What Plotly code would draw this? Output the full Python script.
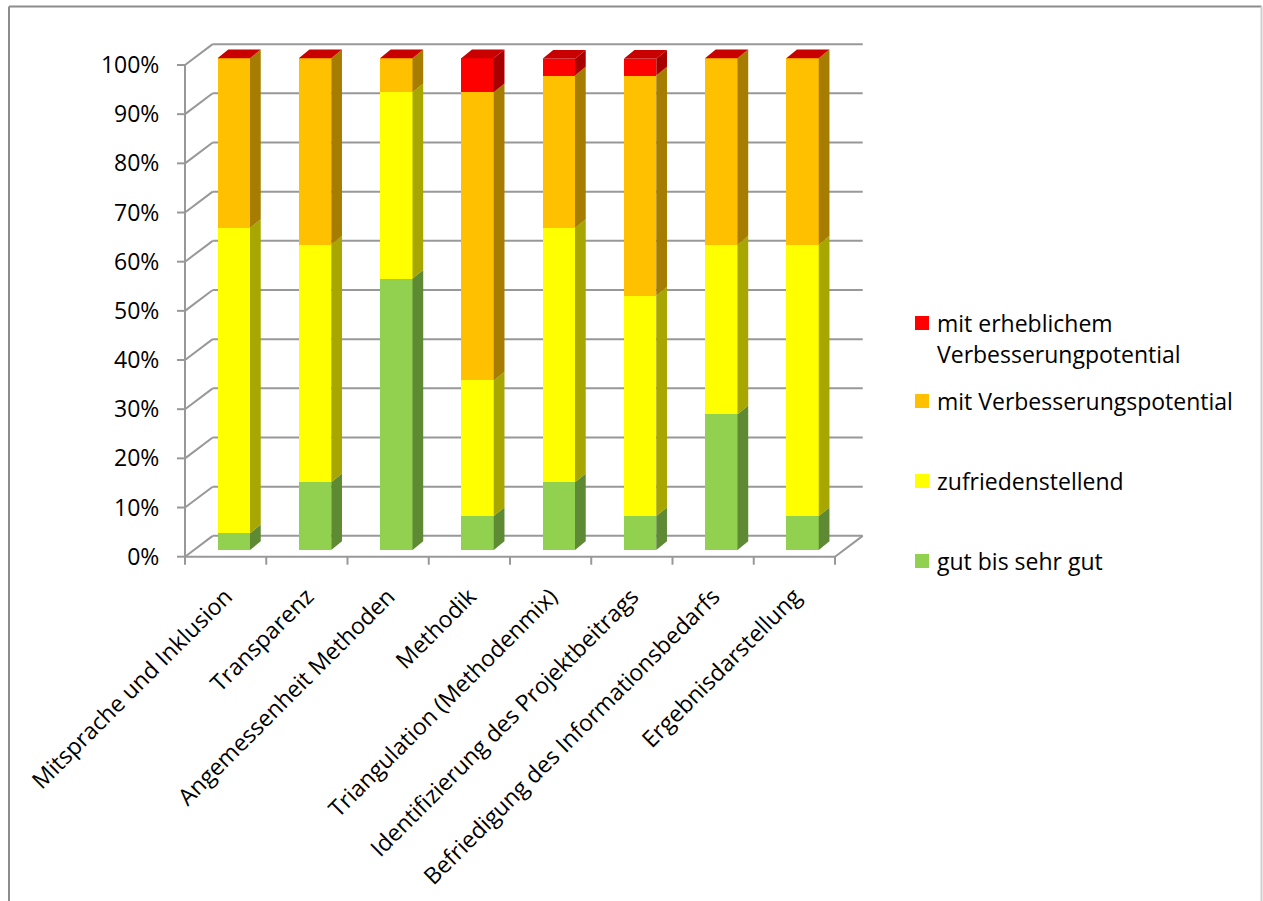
import plotly.graph_objects as go

# ---------------- data ----------------
categories = [
    "Mitsprache und Inklusion",
    "Transparenz",
    "Angemessenheit Methoden",
    "Methodik",
    "Triangulation (Methodenmix)",
    "Identifizierung des Projektbeitrags",
    "Befriedigung des Informationsbedarfs",
    "Ergebnisdarstellung",
]
gut_bis_sehr_gut = [3.4, 13.8, 55.2, 6.9, 13.8, 6.9, 27.6, 6.9]
zufriedenstellend = [62.1, 48.3, 37.9, 27.6, 51.7, 44.8, 34.5, 55.2]
mit_verbesserungspotential = [34.5, 37.9, 6.9, 58.6, 31.0, 44.8, 37.9, 37.9]
mit_erheblichem_vp = [0.0, 0.0, 0.0, 6.9, 3.4, 3.4, 0.0, 0.0]

series_names = [
    ["gut bis sehr gut"],
    ["zufriedenstellend"],
    ["mit Verbesserungspotential"],
    ["mit erheblichem", "Verbesserungpotential"],
]
series_values = [gut_bis_sehr_gut, zufriedenstellend, mit_verbesserungspotential, mit_erheblichem_vp]

y_tick_values = [0, 10, 20, 30, 40, 50, 60, 70, 80, 90, 100]
y_tick_labels = [f"{v}%" for v in y_tick_values]

# ---------------- style ----------------
front_colors = ["#92D050", "#FFFF00", "#FFC000", "#FF0000"]
side_colors = ["#5E8A33", "#A8A600", "#A67D00", "#A80000"]
top_colors = ["#76B03A", "#D6D600", "#D9A200", "#C80000"]
GRID = "#989898"
FONT = "Open Sans"
FS = 23

W, H = 1263, 901
PXC = 81.25      # pixels per category
PXP = 4.917      # pixels per percent
X0 = 185.0       # pixel of front axis left (x = -0.5)
Y0 = 556.7       # pixel of front 0%
L, R, T, B = 176, 866, 40, 566

xr = [-0.5 + (L - X0) / PXC, -0.5 + (R - X0) / PXC]
yr = [(Y0 - B) / PXP, (Y0 - T) / PXP]

WALL_DX, WALL_DY = 27.7 / PXC, 4.24
BAR_DX, BAR_DY, BAR_W = 0.1, 1.36, 0.4
DEP_DX, DEP_DY = 0.132, 1.77

n = len(categories)
fig = go.Figure()

# front faces + side faces
cum = [0.0] * n
for s, vals in enumerate(series_values):
    bases = [cum[i] + BAR_DY for i in range(n)]
    fig.add_trace(go.Bar(
        x=[i + BAR_DX for i in range(n)], y=vals, base=bases, width=BAR_W,
        marker=dict(color=front_colors[s], line=dict(width=0)),
        hoverinfo="skip", showlegend=False,
    ))
    sx, sy = [], []
    for i in range(n):
        xr_ = i + BAR_DX + BAR_W / 2
        b = bases[i]
        t = b + vals[i]
        sx += [xr_, xr_ + DEP_DX, xr_ + DEP_DX, xr_, xr_, None]
        sy += [b, b + DEP_DY, t + DEP_DY, t, b, None]
    fig.add_trace(go.Scatter(
        x=sx, y=sy, mode="lines", fill="toself", fillcolor=side_colors[s],
        line=dict(width=0, color=side_colors[s]), hoverinfo="skip", showlegend=False,
    ))
    cum = [cum[i] + vals[i] for i in range(n)]

# top faces (top of the topmost series)
tx, ty = [], []
for i in range(n):
    xl = i + BAR_DX - BAR_W / 2
    xrr = i + BAR_DX + BAR_W / 2
    t = cum[i] + BAR_DY
    tx += [xl, xrr, xrr + DEP_DX, xl + DEP_DX, xl, None]
    ty += [t, t, t + DEP_DY, t + DEP_DY, t, None]
fig.add_trace(go.Scatter(
    x=tx, y=ty, mode="lines", fill="toself", fillcolor=top_colors[-1],
    line=dict(width=0, color=top_colors[-1]), hoverinfo="skip", showlegend=False,
))

shapes = []
def line(x0, y0, x1, y1, color=GRID, w=2, ref=("x", "y")):
    shapes.append(dict(type="line", xref=ref[0], yref=ref[1], x0=x0, y0=y0, x1=x1, y1=y1,
                       line=dict(color=color, width=w), layer="below"))

x_left, x_right = -0.5, n - 0.5
# gridlines on back wall with diagonals to front axis
for v in y_tick_values:
    line(x_left, v, x_left + WALL_DX, v + WALL_DY)
    line(x_left + WALL_DX, v + WALL_DY, x_right + WALL_DX, v + WALL_DY)
    # y tick marks
    line(x_left - 8 / PXC, v, x_left, v)
# front vertical axis
line(x_left, 0, x_left, 100)
# floor front edge and right diagonal
line(x_left, 0, x_right, 0)
line(x_right, 0, x_right + WALL_DX, WALL_DY)
# x tick marks at category boundaries
for k in range(n + 1):
    line(x_left + k, 0, x_left + k, -8 / PXP)

# outer chart border
def px2paper(px, py):
    return (px - L) / (R - L), (B - py) / (B - T)
bl = px2paper(9, 906)
tl = px2paper(9, 6.5)
tr = px2paper(1261.5, 6.5)
line(tl[0], tl[1], bl[0], bl[1], color="#8c8c8c", w=2, ref=("paper", "paper"))
line(tl[0], tl[1], tr[0], tr[1], color="#8c8c8c", w=2, ref=("paper", "paper"))
line(tr[0], tr[1], tr[0], bl[1], color="#d0d0d0", w=2, ref=("paper", "paper"))

# custom legend
annotations = []
legend_rows = [561, 481, 401, 323]
for s in range(len(series_names) - 1, -1, -1):
    cy = legend_rows[s]
    a0 = px2paper(915, cy + 7)
    a1 = px2paper(929, cy - 7)
    shapes.append(dict(type="rect", xref="paper", yref="paper", x0=a0[0], y0=a0[1],
                       x1=a1[0], y1=a1[1], fillcolor=front_colors[s], line=dict(width=0)))
    for j, txt in enumerate(series_names[s]):
        p = px2paper(935, cy + j * 31)
        annotations.append(dict(xref="paper", yref="paper", x=p[0], y=p[1], text=txt,
                                showarrow=False, xanchor="left", yanchor="middle",
                                font=dict(family=FONT, size=FS, color="#000000")))

fig.update_layout(
    width=W, height=H, autosize=False,
    margin=dict(l=L, r=W - R, t=T, b=H - B, pad=0, autoexpand=False),
    paper_bgcolor="white", plot_bgcolor="white",
    barmode="overlay", bargap=0, showlegend=False,
    shapes=shapes, annotations=annotations,
    font=dict(family=FONT, size=FS, color="#000000"),
    xaxis=dict(range=xr, showgrid=False, zeroline=False, showline=False, automargin=False,
               tickmode="array", tickvals=list(range(n)), ticktext=categories,
               tickangle=-45, ticks="outside", ticklen=7, tickcolor="rgba(0,0,0,0)",
               tickfont=dict(family=FONT, size=FS, color="#000000"), fixedrange=True),
    yaxis=dict(range=yr, showgrid=False, zeroline=False, showline=False, automargin=False,
               tickmode="array", tickvals=y_tick_values, ticktext=y_tick_labels,
               ticks="outside", ticklen=11, tickcolor="rgba(0,0,0,0)",
               tickfont=dict(family=FONT, size=FS, color="#000000"), fixedrange=True),
)

fig.write_html("out.html")
